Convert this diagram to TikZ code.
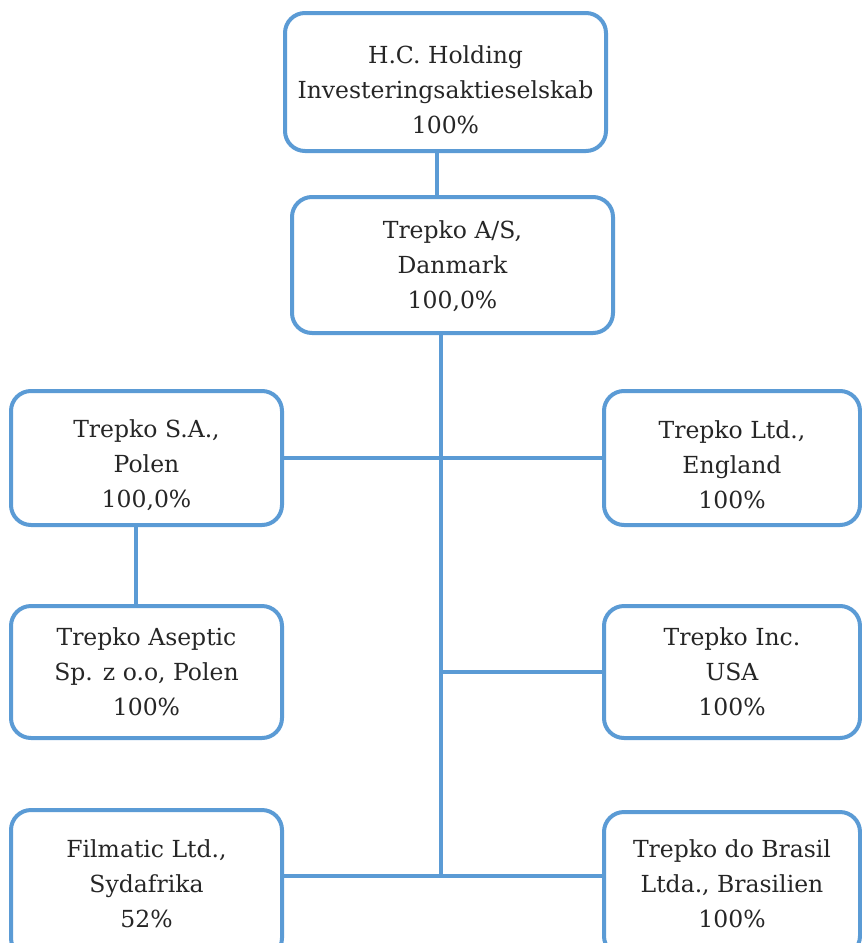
\documentclass[tikz,border=0pt]{standalone}
\usepackage{fontspec}
\setmainfont{DejaVu Serif}
\definecolor{boxblue}{HTML}{5B9BD5}
\tikzset{
  orgbox/.style={draw=boxblue, line width=4pt, rounded corners=20pt, fill=white,
    align=center, inner sep=0pt, font=\fontsize{23.5}{35}\selectfont, text=black!85},
  link/.style={draw=boxblue, line width=4pt}
}
\begin{document}
\begin{tikzpicture}[x=1pt,y=-1pt]
\useasboundingbox (0,0) rectangle (862,943);
\clip (0,0) rectangle (862,943);
\coordinate (tA) at (437,0);
\coordinate (tB) at (441,0);
\coordinate (tL) at (136,0);
\coordinate (bot) at (0,876);
\node[orgbox, minimum width=321pt, minimum height=138pt] (b1) at (445.5,82) {\\[-2pt]H.C. Holding\\Investeringsaktieselskab\\100\%};
\node[orgbox, minimum width=321pt, minimum height=136pt] (b2) at (452.5,265) {\\[-14pt]Trepko A/S,\\Danmark\\100,0\%};
\node[orgbox, minimum width=271pt, minimum height=134pt] (l1) at (146.5,458) {\\[-3pt]Trepko S.A.,\\Polen\\100,0\%};
\node[orgbox, minimum width=256pt, minimum height=134pt] (r1) at (732,458) {\\[-3pt]Trepko Ltd.,\\England\\100\%};
\node[orgbox, minimum width=271pt, minimum height=132pt] (l2) at (146.5,672) {Trepko Aseptic\\Sp. z o.o, Polen\\100\%};
\node[orgbox, minimum width=256pt, minimum height=132pt] (r2) at (732,672) {Trepko Inc.\\USA\\100\%};
\node[orgbox, minimum width=271pt, minimum height=148pt] (l3) at (146.5,884) {Filmatic Ltd.,\\Sydafrika\\52\%};
\node[orgbox, minimum width=256pt, minimum height=144pt] (r3) at (732,884) {Trepko do Brasil\\Ltda., Brasilien\\100\%};
\draw[link] (b1.south -| tA) -- (b2.north -| tA);
\draw[link] (b2.south -| tB) -- (bot -| tB);
\draw[link] (l1.east) -- (r1.west);
\draw[link] (r2.west) -- (r2.west -| tB);
\draw[link] (bot -| l3.east) -- (bot -| r3.west);
\draw[link] (l1.south -| tL) -- (l2.north -| tL);
\end{tikzpicture}
\end{document}
